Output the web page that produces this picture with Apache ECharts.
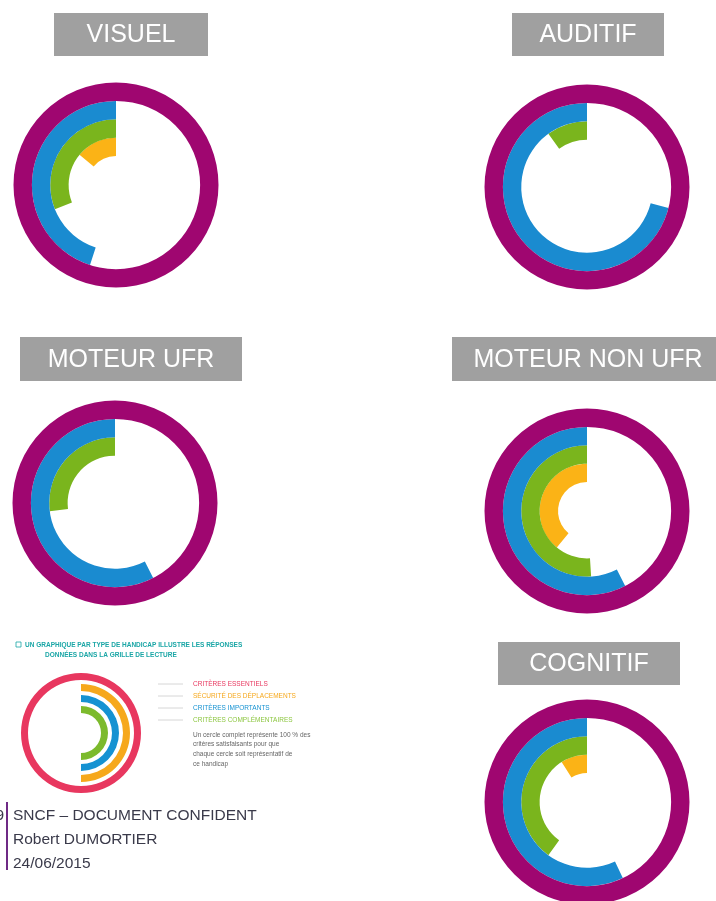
<!DOCTYPE html>
<html>
<head>
<meta charset="utf-8">
<script src="https://cdn.jsdelivr.net/npm/echarts@6/dist/echarts.min.js"></script>
<style>
html,body{margin:0;padding:0;background:#fff}
#main{width:716px;height:901px}
</style>
</head>
<body>
<div id="main"></div>
<script>
// anneaux, du centre vers l'exterieur
var rings = ['orange', 'vert', 'bleu', 'violet'];
var titles = ['VISUEL', 'AUDITIF', 'MOTEUR UFR', 'MOTEUR NON UFR', 'COGNITIF'];
// part du cercle remplie (%)
var visuel = [14, 31, 45, 100];
var auditif = [0, 10, 71, 100];
var moteurUfr = [0, 27, 57.5, 100];
var moteurNonUfr = [39, 51, 57.5, 100];
var cognitif = [9, 40, 57, 100];
var allData = [visuel, auditif, moteurUfr, moteurNonUfr, cognitif];

// petit schema de lecture
var legendRings = ['vert', 'bleu', 'orange', 'rouge'];
var legendData = [50, 50, 50, 100];
var legendTitle = ['UN GRAPHIQUE PAR TYPE DE HANDICAP ILLUSTRE LES RÉPONSES', 'DONNÉES DANS LA GRILLE DE LECTURE'];
var legendLabels = ['CRITÈRES ESSENTIELS', 'SÉCURITÉ DES DÉPLACEMENTS', 'CRITÈRES IMPORTANTS', 'CRITÈRES COMPLÉMENTAIRES'];
var legendNote = ['Un cercle complet représente 100 % des', 'critères satisfaisants pour que', 'chaque cercle soit représentatif de', 'ce handicap'];
var footer = ['SNCF – DOCUMENT CONFIDENT', 'Robert DUMORTIER', '24/06/2015'];

var ringColors = ['#fbb316', '#7ab51d', '#1a8bd0', '#9f0670'];
var legendColors = ['#7cba2c', '#1592d2', '#f6a81c', '#e8375f'];
var labelColors = ['#e8375f', '#f6a81c', '#1592d2', '#8cc63f'];

var layout = [
    {center: [116, 185], box: [54, 13, 154, 43]},
    {center: [587, 187], box: [512, 13, 152, 43]},
    {center: [115, 503], box: [20, 337, 222, 44]},
    {center: [587, 511], box: [452, 337, 266, 44]},
    {center: [587, 802], box: [498, 642, 182, 43]}
];

var polar = [], angleAxis = [], radiusAxis = [], series = [], graphic = [];

for (var i = 0; i < allData.length; i++) {
    polar.push({center: layout[i].center, radius: [29, 102.5]});
    angleAxis.push({polarIndex: i, type: 'value', min: 0, max: 100, startAngle: 90, clockwise: false, show: false});
    radiusAxis.push({polarIndex: i, type: 'category', data: rings, show: false});
    series.push({
        type: 'bar',
        coordinateSystem: 'polar',
        polarIndex: i,
        barCategoryGap: '0%',
        silent: true,
        data: allData[i].map(function (v, k) {
            return {value: v, itemStyle: {color: ringColors[k]}};
        })
    });
    var b = layout[i].box;
    graphic.push({type: 'rect', shape: {x: b[0], y: b[1], width: b[2], height: b[3]}, style: {fill: '#a0a0a0'}});
    graphic.push({
        type: 'text', x: b[0] + b[2] / 2, y: b[1] + b[3] / 2 + 1,
        style: {text: titles[i], fill: '#ffffff', font: '25px "Liberation Sans"', textAlign: 'center', textVerticalAlign: 'middle'}
    });
}
// MOTEUR NON UFR : titre centre sur le cercle
graphic[7].x = 588;

// schema de lecture
polar.push({center: [81, 733], radius: [18, 62]});
angleAxis.push({polarIndex: 5, type: 'value', min: 0, max: 100, startAngle: 90, clockwise: true, show: false});
radiusAxis.push({polarIndex: 5, type: 'category', data: legendRings, show: false});
series.push({
    type: 'bar',
    coordinateSystem: 'polar',
    polarIndex: 5,
    barWidth: 7,
    silent: true,
    data: legendData.map(function (v, k) {
        return {value: v, itemStyle: {color: legendColors[k]}};
    })
});

graphic.push({type: 'rect', shape: {x: 16, y: 642, width: 5, height: 5}, style: {fill: 'none', stroke: '#1aa6a6', lineWidth: 0.8}});
graphic.push({type: 'text', x: 25, y: 645, style: {text: legendTitle[0], fill: '#1aa6a6', font: 'bold 6.5px "Liberation Sans"', textVerticalAlign: 'middle'}});
graphic.push({type: 'text', x: 45, y: 655, style: {text: legendTitle[1], fill: '#1aa6a6', font: 'bold 6.5px "Liberation Sans"', textVerticalAlign: 'middle'}});

var labelY = [684, 696, 708, 720];
for (var j = 0; j < legendLabels.length; j++) {
    graphic.push({type: 'line', shape: {x1: 158, y1: labelY[j], x2: 183, y2: labelY[j]}, style: {stroke: '#cccccc', lineWidth: 0.8}});
    graphic.push({type: 'text', x: 193, y: labelY[j], style: {text: legendLabels[j], fill: labelColors[j], font: '6.5px "Liberation Sans"', textVerticalAlign: 'middle'}});
}
for (var n = 0; n < legendNote.length; n++) {
    graphic.push({type: 'text', x: 193, y: 735 + n * 9.7, style: {text: legendNote[n], fill: '#666666', font: '6.5px "Liberation Sans"', textVerticalAlign: 'middle'}});
}

// pied de page
graphic.push({type: 'rect', shape: {x: 6, y: 802, width: 2, height: 68}, style: {fill: '#6f2a85'}});
graphic.push({type: 'text', x: 4, y: 816, style: {text: '9', fill: '#3a3a4a', font: '15.5px "Liberation Sans"', textAlign: 'right', textVerticalAlign: 'middle'}});
for (var f = 0; f < footer.length; f++) {
    graphic.push({type: 'text', x: 13, y: 816 + f * 24, style: {text: footer[f], fill: '#3a3a4a', font: '15.5px "Liberation Sans"', textVerticalAlign: 'middle'}});
}

var option = {
    backgroundColor: '#ffffff',
    animation: false,
    polar: polar,
    angleAxis: angleAxis,
    radiusAxis: radiusAxis,
    series: series,
    graphic: graphic
};
var myChart = echarts.init(document.getElementById('main'));
myChart.setOption(option);
</script>
</body>
</html>
